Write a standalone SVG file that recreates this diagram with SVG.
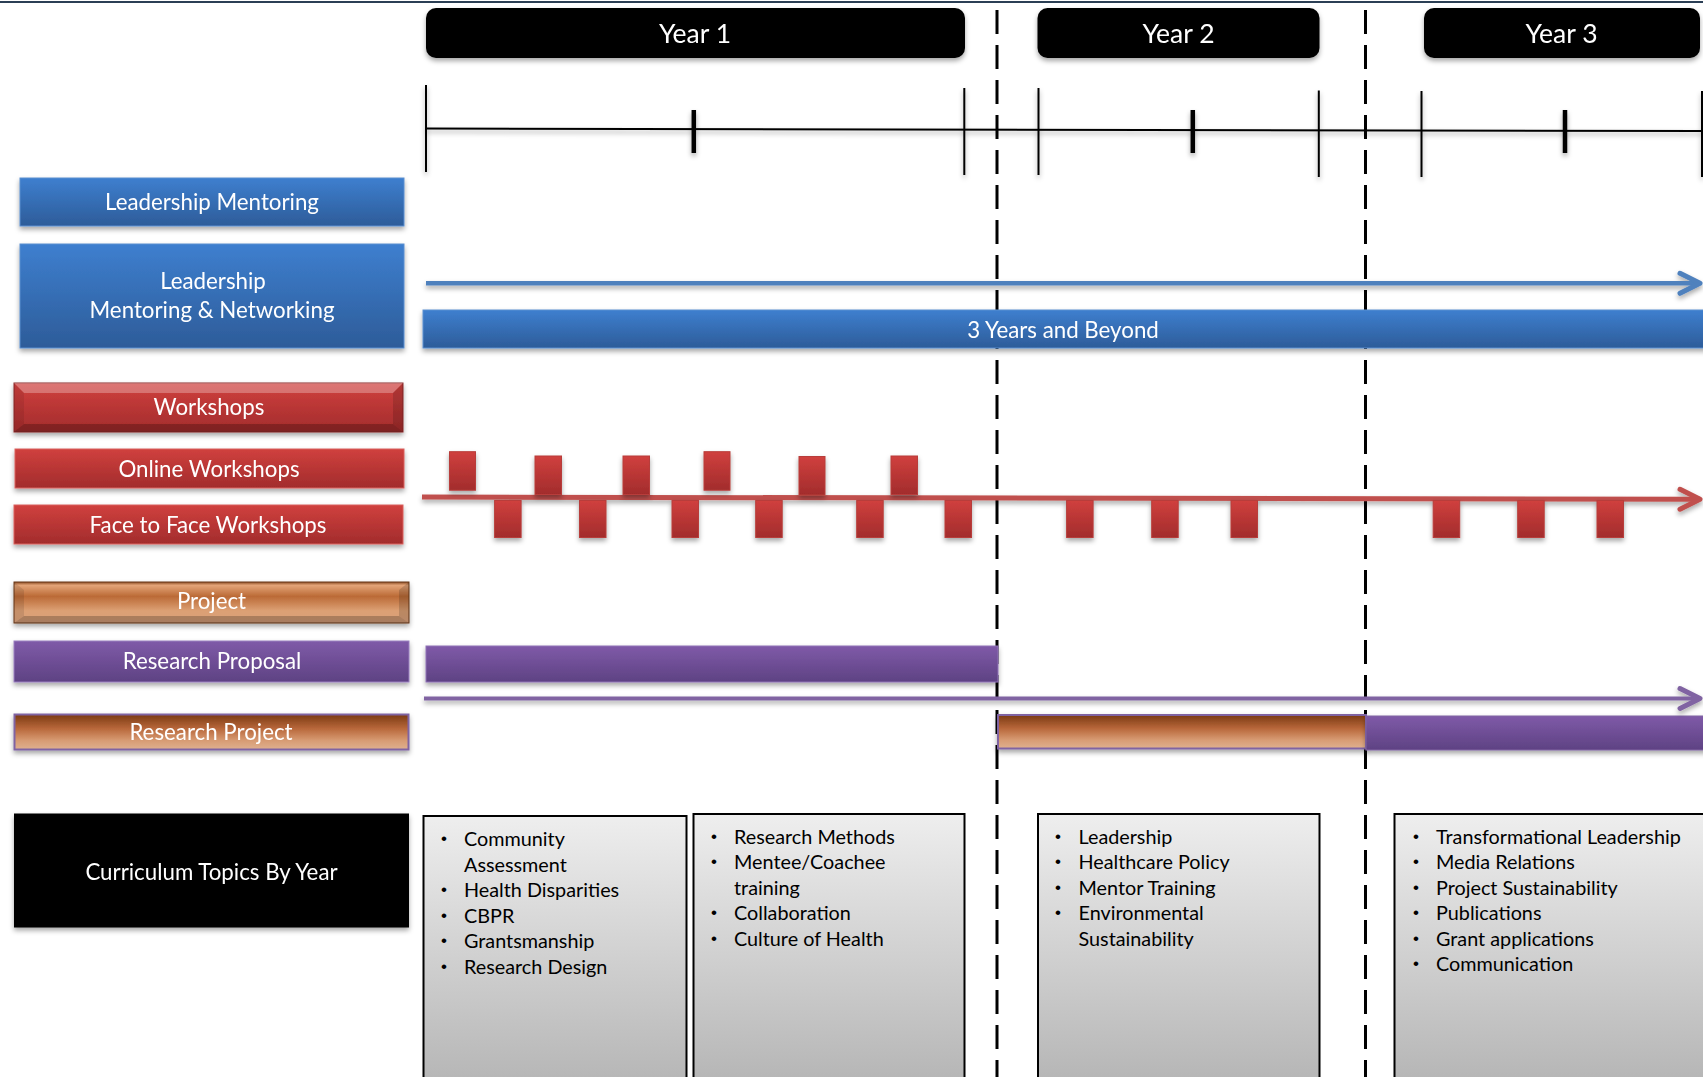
<svg xmlns="http://www.w3.org/2000/svg" width="1703" height="1077" viewBox="0 0 1703 1077">
<style>
.lbl{font-family:Lato,"Open Sans","Liberation Sans",sans-serif;font-size:22.3px;fill:#ffffff;text-anchor:middle}
.yr{font-family:Lato,"Open Sans","Liberation Sans",sans-serif;font-size:26.5px;fill:#ffffff;text-anchor:middle}
.item{font-family:Lato,"Open Sans","Liberation Sans",sans-serif;font-size:19.8px;fill:#000000}
.blt{font-family:"Liberation Sans",sans-serif;font-size:17px;fill:#000000}
.tick{stroke:#000;stroke-width:2}
.tickb{stroke:#000;stroke-width:4.5}
.div{stroke:#000;stroke-width:3;stroke-dasharray:24 11;fill:none}
.topic{fill:url(#gGray);stroke:#000;stroke-width:2}
.hi{fill:#ffffff;opacity:0.28}
.sh{fill:#000000;opacity:0.22}
.sq{fill:url(#gRed);stroke:#b83d3b;stroke-width:1}
</style>
<defs>
<filter id="shadow" x="-5%" y="-30%" width="110%" height="170%">
<feDropShadow dx="0" dy="3" stdDeviation="2.5" flood-color="#000" flood-opacity="0.35"/>
</filter>
<linearGradient id="gBlue" x1="0" y1="0" x2="0" y2="1">
<stop offset="0" stop-color="#3e7fcf"/>
<stop offset="1" stop-color="#2d5c99"/>
</linearGradient>
<linearGradient id="gRed" x1="0" y1="0" x2="0" y2="1">
<stop offset="0" stop-color="#d0403e"/>
<stop offset="1" stop-color="#a22c2c"/>
</linearGradient>
<linearGradient id="gPurple" x1="0" y1="0" x2="0" y2="1">
<stop offset="0" stop-color="#7f5aa8"/>
<stop offset="1" stop-color="#5e4283"/>
</linearGradient>
<linearGradient id="gCopper" x1="0" y1="0" x2="0" y2="1">
<stop offset="0" stop-color="#7a3a14"/>
<stop offset="0.4" stop-color="#b8673a"/>
<stop offset="0.75" stop-color="#d89c74"/>
<stop offset="1" stop-color="#dfb08f"/>
</linearGradient>
<linearGradient id="gProject" x1="0" y1="0" x2="0" y2="1">
<stop offset="0" stop-color="#8a4a22"/>
<stop offset="0.08" stop-color="#e3a478"/>
<stop offset="0.35" stop-color="#bb6a36"/>
<stop offset="0.7" stop-color="#dca074"/>
<stop offset="1" stop-color="#d9a07a"/>
</linearGradient>
<linearGradient id="gGray" x1="0" y1="0" x2="0" y2="1">
<stop offset="0" stop-color="#eeeeee"/>
<stop offset="1" stop-color="#b3b3b3"/>
</linearGradient>
<marker id="arrBlue" markerUnits="userSpaceOnUse" markerWidth="30" markerHeight="30" refX="21" refY="11" orient="auto" overflow="visible">
<path d="M1,1 L21,11 L1,21" fill="none" stroke="#4f81bd" stroke-width="5" stroke-linecap="round" stroke-linejoin="round"/>
</marker>
<marker id="arrRed" markerUnits="userSpaceOnUse" markerWidth="30" markerHeight="30" refX="21" refY="11" orient="auto" overflow="visible">
<path d="M1,1 L21,11 L1,21" fill="none" stroke="#c0504d" stroke-width="5" stroke-linecap="round" stroke-linejoin="round"/>
</marker>
<marker id="arrPurple" markerUnits="userSpaceOnUse" markerWidth="30" markerHeight="30" refX="21" refY="11" orient="auto" overflow="visible">
<path d="M1,1 L21,11 L1,21" fill="none" stroke="#8064a2" stroke-width="5" stroke-linecap="round" stroke-linejoin="round"/>
</marker>
</defs>

<rect x="0" y="0" width="1703" height="1077" fill="#ffffff"/>
<line x1="0" y1="2" x2="1703" y2="2" stroke="#2b3f55" stroke-width="2"/>

<!-- year dividers -->
<g id="dividers">
<line class="div" x1="997" y1="10" x2="997" y2="1077"/>
<line class="div" x1="1365.5" y1="10" x2="1365.5" y2="1077"/>
</g>

<!-- year headers -->
<g id="year1" filter="url(#shadow)">
<rect x="426" y="8" width="539" height="50" rx="10" fill="#000"/>
<text class="yr" x="695" y="43">Year 1</text>
</g>
<g id="year2" filter="url(#shadow)">
<rect x="1037.5" y="8" width="282" height="50" rx="10" fill="#000"/>
<text class="yr" x="1178.5" y="43">Year 2</text>
</g>
<g id="year3" filter="url(#shadow)">
<rect x="1424" y="8" width="276" height="50" rx="10" fill="#000"/>
<text class="yr" x="1561.5" y="43">Year 3</text>
</g>

<!-- timeline -->
<g id="timeline" filter="url(#shadow)">
<line x1="426" y1="128.5" x2="1703" y2="131" stroke="#000" stroke-width="2"/>
<line class="tick" x1="426" y1="85" x2="426" y2="172"/>
<line class="tick" x1="964.3" y1="88" x2="964.3" y2="175"/>
<line class="tick" x1="1038.5" y1="88" x2="1038.5" y2="175"/>
<line class="tick" x1="1318.8" y1="90.5" x2="1318.8" y2="177"/>
<line class="tick" x1="1421.5" y1="91" x2="1421.5" y2="177"/>
<line class="tick" x1="1702" y1="91" x2="1702" y2="177"/>
<line class="tickb" x1="693.8" y1="110" x2="693.8" y2="153"/>
<line class="tickb" x1="1192.8" y1="110" x2="1192.8" y2="153"/>
<line class="tickb" x1="1565" y1="110" x2="1565" y2="153"/>
</g>

<!-- left labels -->
<g id="leadership-mentoring" filter="url(#shadow)">
<rect x="20" y="178" width="384" height="48" fill="url(#gBlue)" stroke="#5b8fd0" stroke-width="1"/>
<text class="lbl" x="212" y="210">Leadership Mentoring</text>
</g>
<g id="leadership-networking" filter="url(#shadow)">
<rect x="20" y="244" width="384" height="104" fill="url(#gBlue)" stroke="#5b8fd0" stroke-width="1"/>
<text class="lbl" x="213" y="289">Leadership</text>
<text class="lbl" x="212" y="318">Mentoring &amp; Networking</text>
</g>
<g id="workshops" filter="url(#shadow)">
<rect x="14" y="383" width="389" height="49" fill="url(#gRed)" stroke="#8a2a2a" stroke-width="1"/>
<polygon class="hi" points="14,383 403,383 393,393 24,393"/>
<polygon class="sh" points="14,432 403,432 393,424 24,424"/>
<polygon fill="#000" opacity="0.08" points="14,383 24,393 24,424 14,432"/>
<polygon fill="#000" opacity="0.14" points="403,383 393,393 393,424 403,432"/>
<text class="lbl" x="209" y="415">Workshops</text>
</g>
<g id="online-workshops" filter="url(#shadow)">
<rect x="15" y="449" width="389" height="39" fill="url(#gRed)" stroke="#d9605c" stroke-width="1"/>
<text class="lbl" x="209" y="476.5">Online Workshops</text>
</g>
<g id="face-to-face-workshops" filter="url(#shadow)">
<rect x="14" y="505" width="389" height="39" fill="url(#gRed)" stroke="#d9605c" stroke-width="1"/>
<text class="lbl" x="208" y="532.5">Face to Face Workshops</text>
</g>
<g id="project" filter="url(#shadow)">
<rect x="14" y="582" width="395" height="41" fill="url(#gProject)" stroke="#6b3a1c" stroke-width="1"/>
<polygon class="sh" points="14,623 409,623 399,616 24,616"/>
<polygon fill="#000" opacity="0.1" points="14,582 24,590 24,616 14,623"/>
<polygon fill="#000" opacity="0.15" points="409,582 399,590 399,616 409,623"/>
<text class="lbl" x="211.5" y="609">Project</text>
</g>
<g id="research-proposal" filter="url(#shadow)">
<rect x="14" y="641" width="395" height="41" fill="url(#gPurple)" stroke="#9a80bf" stroke-width="1"/>
<text class="lbl" x="212" y="669">Research Proposal</text>
</g>
<g id="research-project" filter="url(#shadow)">
<rect x="14.5" y="714.5" width="394" height="35" fill="url(#gCopper)" stroke="#8064a2" stroke-width="2"/>
<text class="lbl" x="211" y="739.5">Research Project</text>
</g>
<g id="curriculum-topics" filter="url(#shadow)">
<rect x="14" y="813.5" width="395" height="114" fill="#000"/>
<text class="lbl" x="211.5" y="879.5">Curriculum Topics By Year</text>
</g>

<!-- bars -->
<g id="three-years-bar" filter="url(#shadow)">
<rect x="423" y="310" width="1285" height="38" fill="url(#gBlue)" stroke="#5b8fd0" stroke-width="1"/>
<text class="lbl" x="1063" y="338">3 Years and Beyond</text>
</g>
<g id="proposal-bar" filter="url(#shadow)">
<rect x="426" y="646" width="572" height="36" fill="url(#gPurple)" stroke="#8f73b5" stroke-width="1"/>
</g>
<g id="project-bar-year2" filter="url(#shadow)">
<rect x="998" y="715" width="368" height="33.5" fill="url(#gCopper)" stroke="#8064a2" stroke-width="2"/>
</g>
<g id="project-bar-year3" filter="url(#shadow)">
<rect x="1366" y="716" width="342" height="34" fill="url(#gPurple)" stroke="#8064a2" stroke-width="1"/>
</g>

<!-- connectors -->
<g id="connectors" fill="none" filter="url(#shadow)">
<line x1="426" y1="283.3" x2="1700" y2="283.3" stroke="#4f81bd" stroke-width="4.5" marker-end="url(#arrBlue)"/>
<line x1="422" y1="497" x2="1700" y2="499.3" stroke="#c0504d" stroke-width="5" marker-end="url(#arrRed)"/>
<line x1="424" y1="698.5" x2="1700" y2="698.5" stroke="#8064a2" stroke-width="4" marker-end="url(#arrPurple)"/>
</g>

<!-- workshop markers -->
<g id="online-sessions" filter="url(#shadow)">
<rect class="sq" x="449.5" y="451.7" width="26" height="38.5"/>
<rect class="sq" x="535" y="456" width="26.5" height="38.5"/>
<rect class="sq" x="623" y="456" width="26.5" height="38.5"/>
<rect class="sq" x="704" y="451.7" width="26" height="38.5"/>
<rect class="sq" x="799" y="456.5" width="26" height="38.5"/>
<rect class="sq" x="891" y="456" width="26.5" height="38.5"/>
</g>
<g id="face-to-face-sessions" filter="url(#shadow)">
<rect class="sq" x="494.6" y="500.5" width="26.5" height="37"/>
<rect class="sq" x="579.5" y="500.5" width="26.5" height="37"/>
<rect class="sq" x="672" y="500.5" width="26.5" height="37"/>
<rect class="sq" x="755.7" y="500.5" width="26.5" height="37"/>
<rect class="sq" x="856.7" y="500.5" width="26.5" height="37"/>
<rect class="sq" x="945" y="500.5" width="26.5" height="37"/>
<rect class="sq" x="1066.6" y="500.5" width="26.5" height="37"/>
<rect class="sq" x="1151.7" y="500.5" width="26.5" height="37"/>
<rect class="sq" x="1231" y="500.5" width="26.5" height="37"/>
<rect class="sq" x="1433.2" y="500.5" width="26.5" height="37"/>
<rect class="sq" x="1517.7" y="500.5" width="26.5" height="37"/>
<rect class="sq" x="1597" y="500.5" width="26.5" height="37"/>
</g>

<!-- curriculum topics -->
<g id="topics-year1a">
<rect class="topic" x="423.5" y="816" width="263" height="280"/>
<text class="blt" x="441" y="844">•</text><text class="item" x="464" y="846">Community</text>
<text class="item" x="464" y="871.5">Assessment</text>
<text class="blt" x="441" y="895">•</text><text class="item" x="464" y="897">Health Disparities</text>
<text class="blt" x="441" y="920.5">•</text><text class="item" x="464" y="922.5">CBPR</text>
<text class="blt" x="441" y="946">•</text><text class="item" x="464" y="948">Grantsmanship</text>
<text class="blt" x="441" y="971.5">•</text><text class="item" x="464" y="973.5">Research Design</text>
</g>
<g id="topics-year1b">
<rect class="topic" x="693.5" y="814" width="271" height="280"/>
<text class="blt" x="711" y="841.5">•</text><text class="item" x="734" y="843.5">Research Methods</text>
<text class="blt" x="711" y="867">•</text><text class="item" x="734" y="869">Mentee/Coachee</text>
<text class="item" x="734" y="894.5">training</text>
<text class="blt" x="711" y="918">•</text><text class="item" x="734" y="920">Collaboration</text>
<text class="blt" x="711" y="943.5">•</text><text class="item" x="734" y="945.5">Culture of Health</text>
</g>
<g id="topics-year2">
<rect class="topic" x="1038" y="814" width="281.5" height="280"/>
<text class="blt" x="1055" y="841.5">•</text><text class="item" x="1078.5" y="843.5">Leadership</text>
<text class="blt" x="1055" y="867">•</text><text class="item" x="1078.5" y="869">Healthcare Policy</text>
<text class="blt" x="1055" y="892.5">•</text><text class="item" x="1078.5" y="894.5">Mentor Training</text>
<text class="blt" x="1055" y="918">•</text><text class="item" x="1078.5" y="920">Environmental</text>
<text class="item" x="1078.5" y="945.5">Sustainability</text>
</g>
<g id="topics-year3">
<rect class="topic" x="1394.5" y="814" width="320" height="280"/>
<text class="blt" x="1413" y="841.5">•</text><text class="item" x="1436" y="843.5">Transformational Leadership</text>
<text class="blt" x="1413" y="867">•</text><text class="item" x="1436" y="869">Media Relations</text>
<text class="blt" x="1413" y="892.5">•</text><text class="item" x="1436" y="894.5">Project Sustainability</text>
<text class="blt" x="1413" y="918">•</text><text class="item" x="1436" y="920">Publications</text>
<text class="blt" x="1413" y="943.5">•</text><text class="item" x="1436" y="945.5">Grant applications</text>
<text class="blt" x="1413" y="969">•</text><text class="item" x="1436" y="971">Communication</text>
</g>
</svg>
